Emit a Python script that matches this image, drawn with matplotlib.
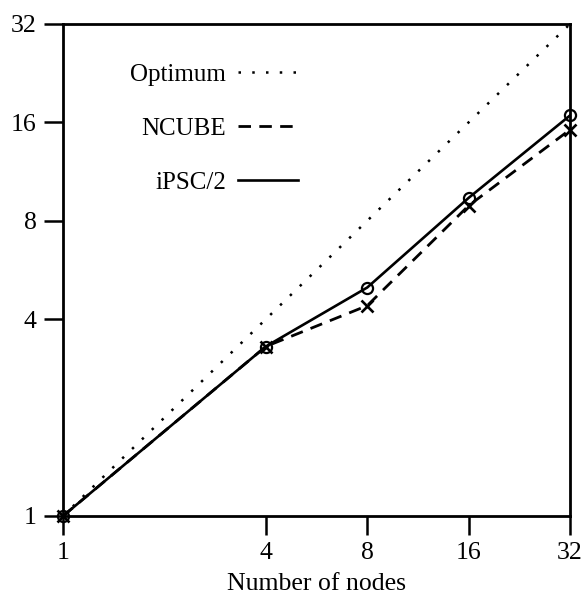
import matplotlib
matplotlib.use("Agg")
import matplotlib.pyplot as plt
from matplotlib.ticker import FixedLocator, NullLocator

plt.rcParams['font.family'] = ['Liberation Serif', 'DejaVu Serif']

# data
nodes = [1, 4, 8, 16, 32]
optimum_x = [1, 32]
optimum_y = [1, 32]
ncube = [1, 3.3, 4.4, 8.9, 15.2]
ipsc2 = [1, 3.3, 5.0, 9.4, 16.8]
tick_vals = [1, 4, 8, 16, 32]
tick_labels = ['1', '4', '8', '16', '32']

fig = plt.figure(figsize=(5.84, 6.08), dpi=100)
ax = fig.add_axes([63 / 584, 1 - 516 / 608, (570 - 63) / 584, (516 - 24) / 608])

ax.set_xscale('log', base=2)
ax.set_yscale('log', base=2)

l_opt, = ax.plot(optimum_x, optimum_y, color='black', lw=1.8,
                 linestyle=(0, (1, 4.5)), label='Optimum')
l_nc, = ax.plot(nodes, ncube, color='black', lw=2.0, linestyle=(0, (4.5, 3)),
                label='NCUBE')
l_ip, = ax.plot(nodes, ipsc2, color='black', lw=1.9, label='iPSC/2')
# markers drawn separately so the legend only shows line styles
ax.plot(nodes, ncube, 'x', color='black', ms=8, mew=1.9, clip_on=False)
ax.plot(nodes, ipsc2, 'o', color='black', mfc='none', ms=8, mew=1.6, clip_on=False)

ax.set_xlim(1, 32)
ax.set_ylim(1, 32)

ax.xaxis.set_major_locator(FixedLocator(tick_vals))
ax.yaxis.set_major_locator(FixedLocator(tick_vals))
ax.xaxis.set_minor_locator(NullLocator())
ax.yaxis.set_minor_locator(NullLocator())
ax.set_xticklabels(tick_labels)
ax.set_yticklabels(tick_labels)
ax.tick_params(direction='out', length=14, width=1.8, labelsize=18.5, pad=5)

for s in ax.spines.values():
    s.set_linewidth(2.0)

ax.set_xlabel('Number of nodes', fontsize=18.5, labelpad=6)

leg = ax.legend(handles=[l_opt, l_nc, l_ip], loc='upper left',
                bbox_to_anchor=(0.088, 0.965), frameon=False, markerfirst=False,
                fontsize=18, handlelength=2.4, handletextpad=0.5,
                labelspacing=1.25)

fig.savefig('out.png', dpi=100)
